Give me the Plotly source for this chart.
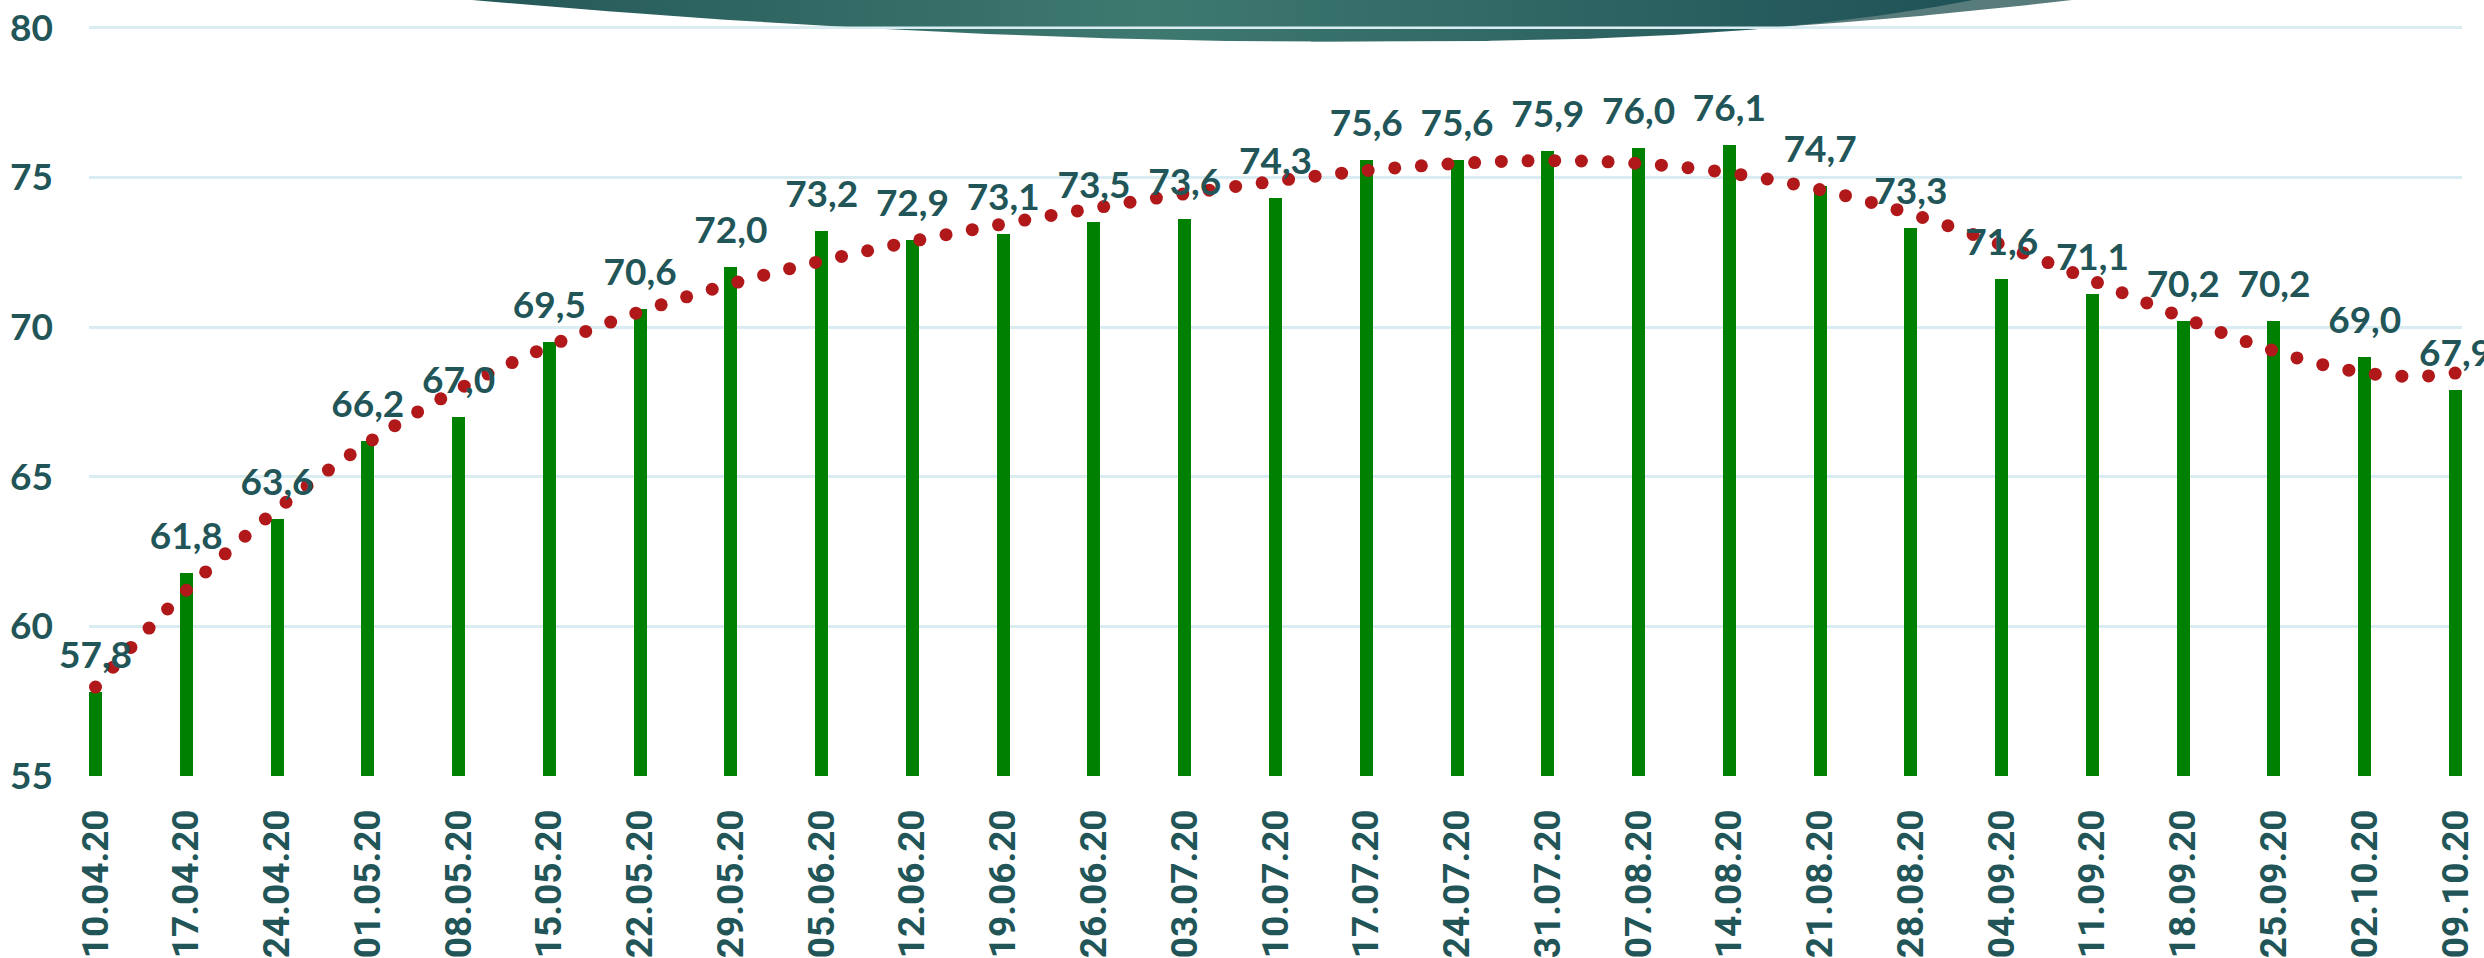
import numpy as np
import plotly.graph_objects as go

# ---------------- data ----------------
dates = ["10.04.20", "17.04.20", "24.04.20", "01.05.20", "08.05.20", "15.05.20",
         "22.05.20", "29.05.20", "05.06.20", "12.06.20", "19.06.20", "26.06.20",
         "03.07.20", "10.07.20", "17.07.20", "24.07.20", "31.07.20", "07.08.20",
         "14.08.20", "21.08.20", "28.08.20", "04.09.20", "11.09.20", "18.09.20",
         "25.09.20", "02.10.20", "09.10.20"]
values = [57.8, 61.8, 63.6, 66.2, 67.0, 69.5, 70.6, 72.0, 73.2, 72.9, 73.1, 73.5,
          73.6, 74.3, 75.6, 75.6, 75.9, 76.0, 76.1, 74.7, 73.3, 71.6, 71.1, 70.2,
          70.2, 69.0, 67.9]
y_ticks = [55, 60, 65, 70, 75, 80]
TREND_ORDER = 6

# ---------------- layout constants ----------------
W, H = 2484, 958
ML, MR, MT, MB = 89, 22, 0, 175
PLOT_W = W - ML - MR
PLOT_H = H - MT - MB
n = len(values)
idx = np.arange(n)
half_bar = 0.0716
x_range = [-half_bar, n - 1 + half_bar]
y_range = [55, 80.93]
px_per_x = PLOT_W / (x_range[1] - x_range[0])
px_per_y = PLOT_H / (y_range[1] - y_range[0])

TEAL = "#215558"
GRID = "#D8ECF1"

# ---------------- trend line (polynomial fit, round dots) ----------------
coef = np.polyfit(idx, values, TREND_ORDER)
xs = np.linspace(0, n - 1, 6000)
ys = np.polyval(coef, xs)
seg = np.hypot(np.diff(xs * px_per_x), np.diff(ys * px_per_y))
s = np.concatenate([[0], np.cumsum(seg)])
steps = np.arange(0, s[-1] + 1, 26.7)
dot_x = np.interp(steps, s, xs)
dot_y = np.polyval(coef, dot_x)

fig = go.Figure()

# decorative lens at top (pixel coordinates on hidden overlay axes)
def edge(x, cx, hw, p, depth=42):
    u = np.clip(np.abs(x - cx) / hw, 0, 1)
    return depth * (1 - u ** p)

lx = np.linspace(1311, 2072, 200)
ly = edge(lx, 1311, 761, 2.16)
fig.add_trace(go.Scatter(x=np.concatenate([lx, [2072, 1311]]), y=np.concatenate([ly, [-2, -2]]),
                         xaxis="x2", yaxis="y2", mode="lines", fill="toself",
                         fillcolor="#587C7B", line=dict(width=0), hoverinfo="skip", showlegend=False))
left = np.linspace(472, 1311, 200)
right = np.linspace(1311, 1973, 200)[1:]
dx = np.concatenate([left, right])
dy = np.concatenate([edge(left, 1311, 839, 1.78), edge(right, 1311, 662, 3.05)])
fig.add_trace(go.Scatter(x=np.concatenate([dx, [1973, 472]]), y=np.concatenate([dy, [-2, -2]]),
                         xaxis="x2", yaxis="y2", mode="lines", fill="toself",
                         fillgradient=dict(type="horizontal",
                                           colorscale=[[0, "#245858"], [0.45, "#3E7970"], [1, "#1F5257"]]),
                         line=dict(width=0), hoverinfo="skip", showlegend=False))

# bars
fig.add_trace(go.Bar(x=idx, y=values, width=2 * half_bar, marker=dict(color="#008000", line=dict(width=0)),
                     hoverinfo="skip", showlegend=False))

# trend dots
fig.add_trace(go.Scatter(x=dot_x, y=dot_y, mode="markers",
                         marker=dict(size=13, color="#B0181A", line=dict(width=0)),
                         hoverinfo="skip", showlegend=False))

# data labels
labels = [f"{v:.1f}".replace(".", ",") for v in values]
fig.add_trace(go.Scatter(x=idx, y=values, mode="markers+text", text=labels, textposition="top center",
                         marker=dict(size=22, opacity=0),
                         textfont=dict(family="Lato", size=37, color=TEAL, weight=700),
                         hoverinfo="skip", showlegend=False, cliponaxis=False))

fig.update_layout(
    width=W, height=H, margin=dict(l=ML, r=MR, t=MT, b=MB, pad=0),
    paper_bgcolor="white", plot_bgcolor="white", bargap=0,
    xaxis=dict(range=x_range, tickvals=idx, ticktext=dates, tickangle=-90,
               showgrid=False, zeroline=False, showline=False, ticks="",
               tickfont=dict(family="Roboto", size=37, color=TEAL, weight=700),
               ticklabelstandoff=25),
    yaxis=dict(range=y_range, tickvals=y_ticks, showgrid=True, gridcolor=GRID, gridwidth=2.5,
               zeroline=False, showline=False, ticks="",
               tickfont=dict(family="Lato", size=37, color=TEAL, weight=700),
               ticklabelstandoff=35),
    xaxis2=dict(range=[ML, W - MR], overlaying="x", visible=False, fixedrange=True),
    yaxis2=dict(range=[PLOT_H, 0], overlaying="y", visible=False, fixedrange=True),
    shapes=[dict(type="line", xref="paper", x0=0, x1=1, yref="y", y0=80, y1=80,
                 line=dict(color=GRID, width=2.5), layer="above")],
)

fig.write_html("out.html", config={"displayModeBar": False},
               post_script="document.body.style.margin='0px';document.body.style.overflow='hidden';")
